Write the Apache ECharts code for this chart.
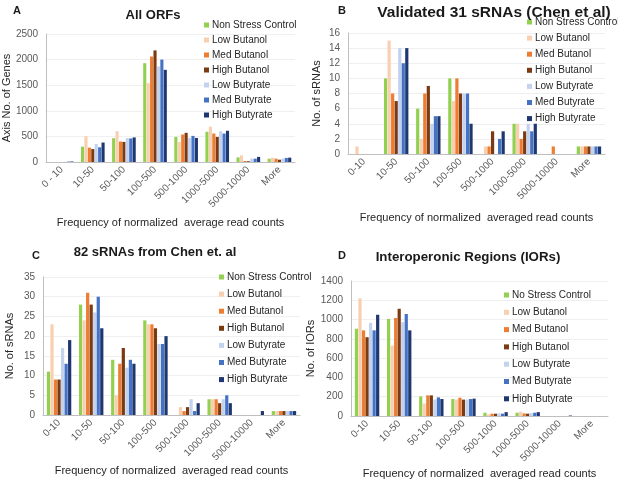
<!DOCTYPE html>
<html><head><meta charset="utf-8">
<script src="https://cdn.jsdelivr.net/npm/echarts@6/dist/echarts.min.js"></script>
<style>html,body{margin:0;padding:0;background:#fff}#c{width:618px;height:480px}</style>
</head><body><div id="c"></div>
<script>
const categoriesA = ['0 - 10','10-50','50-100','100-500','500-1000','1000-5000','5000-10000','More'];
const categories = ['0-10','10-50','50-100','100-500','500-1000','1000-5000','5000-10000','More'];
const seriesNames = ['Non Stress Control','Low Butanol','Med Butanol','High Butanol','Low Butyrate','Med Butyrate','High Butyrate'];
const seriesNamesD = ['No Stress Control','Low Butanol','Med Butanol','High Butanol','Low Butyrate','Med Butyrate','High Butyrate'];
const colors = ['#92d050','#f8cfb0','#ed7d31','#7b3a12','#c3d2ee','#4472c4','#1f3770'];

// Panel A: All ORFs (per series, per category)
const nonStressA = [0,300,465,1930,490,590,90,65];
const lowButanolA = [0,505,600,1540,390,690,130,85];
const medButanolA = [0,280,400,2060,537,556,20,65];
const highButanolA = [0,253,393,2180,570,490,15,45];
const lowButyrateA = [5,353,467,1865,470,600,65,65];
const medButyrateA = [8,287,460,2000,510,556,65,80];
const highButyrateA = [10,380,480,1800,470,610,100,85];

// Panel B: Validated 31 sRNAs
const nonStressB = [0,10,6,10,0,4,0,1];
const lowButanolB = [1,15,2,7,1,4,0,1];
const medButanolB = [0,8,8,10,1,2,1,1];
const highButanolB = [0,7,9,8,3,3,0,1];
const lowButyrateB = [0,14,4,8,0,4,0,1];
const medButyrateB = [0,12,5,8,2,3,0,1];
const highButyrateB = [0,14,5,4,3,4,0,1];

// Panel C: 82 sRNAs
const nonStressC = [11,28,14,24,0,4,0,1];
const lowButanolC = [23,24,5,23,2,4,0,1];
const medButanolC = [9,31,13,23,1,4,0,1];
const highButanolC = [9,28,17,22,2,3,0,1];
const lowButyrateC = [17,26,12,18,4,4,0,1];
const medButyrateC = [13,30,14,18,1,5,0,1];
const highButyrateC = [19,22,13,20,3,3,1,1];

// Panel D: Interoperonic Regions
const nonStressD = [905,1007,203,176,34,34,0,0];
const lowButanolD = [1220,730,129,170,17,44,0,0];
const medButanolD = [888,1017,214,190,24,27,0,0];
const highButanolD = [817,1112,214,170,24,24,0,0];
const lowButyrateD = [966,973,170,170,27,30,0,0];
const medButyrateD = [888,1058,193,176,24,34,0,0];
const highButyrateD = [1050,888,176,180,40,40,5,0];

const panelData = [
  [nonStressA,lowButanolA,medButanolA,highButanolA,lowButyrateA,medButyrateA,highButyrateA],
  [nonStressB,lowButanolB,medButanolB,highButanolB,lowButyrateB,medButyrateB,highButyrateB],
  [nonStressC,lowButanolC,medButanolC,highButanolC,lowButyrateC,medButyrateC,highButyrateC],
  [nonStressD,lowButanolD,medButanolD,highButanolD,lowButyrateD,medButyrateD,highButyrateD]
];
const yMax = [2500,16,35,1400];
const yStep = [500,2,5,200];
const yNames = ['Axis No. of Genes','No. of sRNAs','No. of sRNAs','No. of IORs'];
const xNames = ['Frequency of normalized  average read counts','Frequency of normalized  averaged read counts','Frequency of normalized  averaged read counts','Frequency of normalized  averaged read counts'];
const titles = ['All ORFs','Validated 31 sRNAs (Chen et al)','82 sRNAs from Chen et. al','Interoperonic Regions (IORs)'];
const letters = ['A','B','C','D'];

const FONT = '"Liberation Sans", Arial, sans-serif';
const grids = [
  {left:45, top:34, width:250, height:128},
  {left:348, top:33, width:257, height:121},
  {left:43, top:277, width:257, height:138},
  {left:351, top:281, width:257, height:137}
];
const xNameGap = [55,58,50,52];
const yNameGap = [33,26,28,32];
const titlePos = [[148,4],[489,0],[150,241],[463,246]];
const titleSize = [13,15.5,13,13.3];
const letterPos = [[8,0],[333,0],[27,245],[333,245]];
const legendPos = [[199,15],[522,12],[214,267],[499,285]];
const legendGap = [5.0,6.1,7.1,7.3];

const option = {
  animation:false,
  textStyle:{fontFamily:FONT},
  title: [],
  grid: grids,
  xAxis: [], yAxis: [], legend: [], series: []
};
for (let p=0;p<4;p++){
  option.title.push({text:titles[p], left:titlePos[p][0], top:titlePos[p][1], textAlign:'center',
    textStyle:{fontSize:titleSize[p], fontWeight:'bold', color:'#1a1a1a', fontFamily:FONT}});
  option.title.push({text:letters[p], left:letterPos[p][0], top:letterPos[p][1],
    textStyle:{fontSize:11, fontWeight:'bold', color:'#1a1a1a', fontFamily:FONT}});
  option.xAxis.push({type:'category', gridIndex:p, data: p===0?categoriesA:categories,
    axisTick:{show:false}, axisLine:{lineStyle:{color:'#bfbfbf'}},
    axisLabel:{rotate:45, fontSize:10, color:'#595959', interval:0, margin:6},
    name:xNames[p], nameLocation:'middle', nameGap:xNameGap[p],
    nameTextStyle:{fontSize:11, color:'#262626'}});
  option.yAxis.push({type:'value', gridIndex:p, min:0, max:yMax[p], interval:yStep[p],
    axisLine:{show:true, lineStyle:{color:'#bfbfbf'}}, axisTick:{show:false},
    splitLine:{lineStyle:{color:'#efefef'}},
    axisLabel:{fontSize:10, color:'#595959', margin:8, formatter: v => String(v)},
    name:yNames[p], nameLocation:'middle', nameGap:yNameGap[p],
    nameTextStyle:{fontSize:11, color:'#262626'}});
  const names = p===3?seriesNamesD:seriesNames;
  option.legend.push({orient:'vertical', left:legendPos[p][0], top:legendPos[p][1],
    data:names, itemWidth:5, itemHeight:5, itemGap:legendGap[p], icon:'rect',
    selectedMode:false, textStyle:{fontSize:10, color:'#262626', padding:[0,0,0,-2]}});
  for (let s=0;s<7;s++){
    option.series.push({type:'bar', name:names[s], xAxisIndex:p, yAxisIndex:p,
      data:panelData[p][s], itemStyle:{color:colors[s]},
      barGap:'10%', barCategoryGap:'24%'});
  }
}
const chart = echarts.init(document.getElementById('c'), null, {renderer:'canvas'});
chart.setOption(option);
</script></body></html>
